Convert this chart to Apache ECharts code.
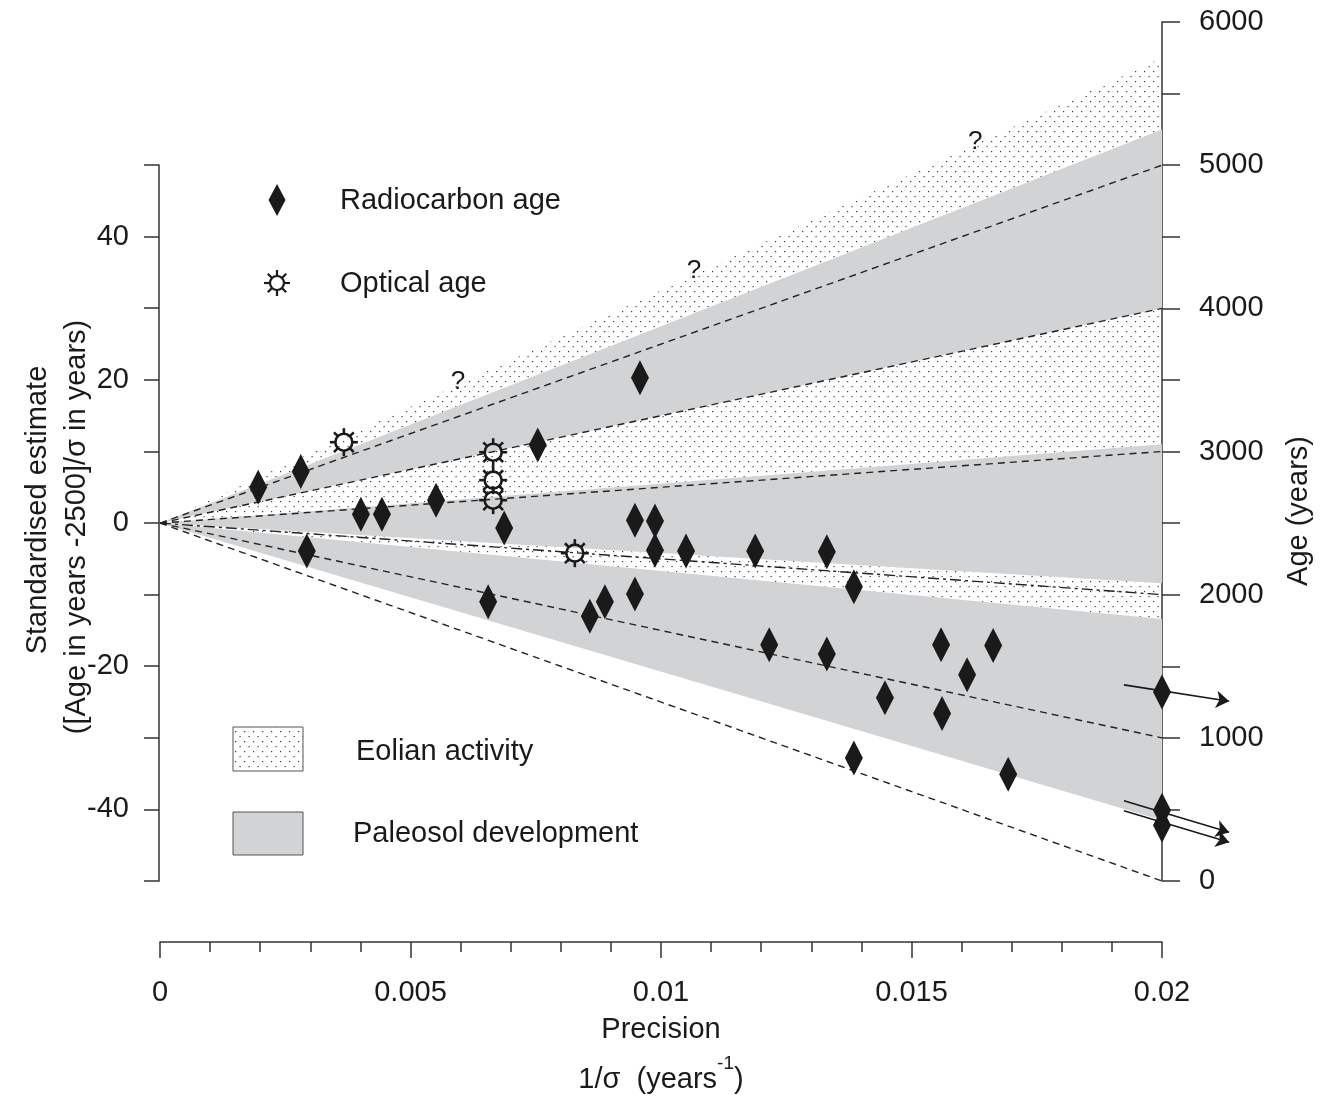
<!DOCTYPE html>
<html><head><meta charset="utf-8">
<script src="https://cdn.jsdelivr.net/npm/echarts/dist/echarts.min.js"></script>
<style>html,body{margin:0;padding:0;background:#fff}#c{width:1328px;height:1096px}</style>
</head><body><div id="c"></div>
<script>
// ---------- data ----------
const maxPrecision = 0.02;
const radiocarbonPrecision = [0.00196,0.00281,0.00293,0.00401,0.00443,0.00551,0.00655,0.00687,0.00754,0.00858,0.00888,0.00948,0.00948,0.00958,0.00988,0.00988,0.0105,0.01188,0.01216,0.01331,0.01331,0.01385,0.01385,0.01447,0.01559,0.01561,0.01611,0.01663,0.01693,0.02,0.02,0.02];
const radiocarbonZ = [5.0,7.2,-3.9,1.25,1.25,3.2,-11.0,-0.7,10.9,-13.0,-11.0,0.4,-9.9,20.3,0.3,-3.8,-3.9,-3.9,-17.0,-4.0,-18.3,-8.9,-32.8,-24.4,-17.0,-26.6,-21.2,-17.1,-35.1,-23.6,-40.1,-42.2];
const opticalPrecision = [0.00367,0.00665,0.00665,0.00665,0.00828];
const opticalZ = [11.3,9.9,6.0,3.2,-4.2];
const radialLineZ = [50,30,10,-30,-50];   // ages 5000,4000,3000,1000,0
const radialDashDotZ = [-10];            // age 2000
const eolianBands = [[55,65],[11,30],[-13.4,-8.4]];
const paleosolBands = [[30,55],[-8.4,11],[-41.5,-13.4]];
const arrowStart = [[0.01924,-22.6],[0.01924,-38.8],[0.01924,-40.2]];
const arrowEnd = [[0.02134,-24.9],[0.02134,-43.2],[0.02134,-44.6]];
const questionPrecision = [0.00595,0.01066,0.01627];
const questionZ = [19.8,35.3,53.3];
const leftTicks = [-50,50,10];      // min,max,interval (standardised estimate)
const rightTicks = [-50,70,10];     // in z units: age = 2500 + 50*z
const xTickLabels = ['0','0.005','0.01','0.015','0.02'];

// ---------- styles ----------
const FONT = '"Liberation Sans", Arial, Helvetica, sans-serif';
const INK = '#1a1a1a';
const GRAY = '#d2d3d5';
function makeDots(){
  const c = document.createElement('canvas');
  c.width = 9; c.height = 10;
  const g = c.getContext('2d');
  g.fillStyle = '#3a3a3a';
  g.fillRect(1,1,1.2,1.2);
  g.fillRect(5.5,6,1.2,1.2);
  return c;
}
const DOTS = {image: makeDots(), repeat: 'repeat'};

function sun(cx, cy, r, R, lw){
  const ch = [{type:'circle', shape:{cx:cx, cy:cy, r:r}, style:{fill:'none', stroke:INK, lineWidth:lw}}];
  for (let k=0;k<8;k++){
    const a = k*Math.PI/4, c = Math.cos(a), s = Math.sin(a);
    ch.push({type:'line', shape:{x1:cx+r*c, y1:cy+r*s, x2:cx+R*c, y2:cy+R*s}, style:{stroke:INK, lineWidth:lw}});
  }
  return ch;
}

function wedge(fill){
  return function(params, api){
    const o = api.coord([0,0]);
    const a = api.coord([maxPrecision, api.value(0)]);
    const b = api.coord([maxPrecision, api.value(1)]);
    return {type:'polygon', shape:{points:[o,a,b]}, style:{fill:fill}, silent:true};
  };
}

const chart = echarts.init(document.getElementById('c'));
const series = [];
series.push({type:'custom', xAxisIndex:0, yAxisIndex:0, z:1, renderItem:wedge(DOTS), data:eolianBands, clip:false});
series.push({type:'custom', xAxisIndex:0, yAxisIndex:0, z:1, renderItem:wedge(GRAY), data:paleosolBands, clip:false});
radialLineZ.forEach(function(z){
  series.push({type:'line', xAxisIndex:0, yAxisIndex:0, z:2, symbol:'none', silent:true,
    data:[[0,0],[maxPrecision,z]], lineStyle:{color:'#222', width:1.4, type:[7,5]}});
});
radialDashDotZ.forEach(function(z){
  series.push({type:'line', xAxisIndex:0, yAxisIndex:0, z:2, symbol:'none', silent:true,
    data:[[0,0],[maxPrecision,z]], lineStyle:{color:'#222', width:1.4, type:[11,4,3,4]}});
});
series.push({type:'lines', coordinateSystem:'cartesian2d', xAxisIndex:0, yAxisIndex:0, z:3, clip:false,
  symbol:['none','arrow'], symbolSize:[0,13],
  lineStyle:{color:INK, width:1.6, opacity:1, curveness:0},
  data: arrowStart.map(function(s,i){ return {coords:[s, arrowEnd[i]]}; })});
series.push({type:'scatter', xAxisIndex:0, yAxisIndex:0, z:4, clip:false, symbol:'diamond', symbolSize:[18,35],
  itemStyle:{color:INK, opacity:1}, data: radiocarbonPrecision.map(function(x,i){ return [x, radiocarbonZ[i]]; })});
series.push({type:'custom', xAxisIndex:0, yAxisIndex:0, z:5, clip:false,
  data: opticalPrecision.map(function(x,i){ return [x, opticalZ[i]]; }),
  renderItem:function(params, api){
    const p = api.coord([api.value(0), api.value(1)]);
    return {type:'group', children: sun(p[0], p[1], 8.5, 14, 2.6)};
  }});
series.push({type:'scatter', xAxisIndex:0, yAxisIndex:0, z:5, clip:false, symbolSize:1,
  itemStyle:{color:'rgba(0,0,0,0)', opacity:1},
  label:{show:true, position:'inside', formatter:'?', fontSize:26, fontFamily:FONT, color:INK, opacity:1},
  data: questionPrecision.map(function(x,i){ return [x, questionZ[i]]; })});

const txt = function(t, x, y, extra){
  return Object.assign({type:'text', x:x, y:y, style:{text:t, font:'29px '+FONT, fill:INK, align:'left', verticalAlign:'middle'}}, extra||{});
};

const option = {
  animation:false,
  backgroundColor:'#fff',
  grid:[
    {left:160, right:166, top:22, bottom:215},
    {left:159, right:166, top:165, bottom:215}
  ],
  xAxis:[
    {gridIndex:0, type:'value', min:0, max:maxPrecision, interval:0.005, offset:61,
     axisLine:{show:true, onZero:false, lineStyle:{color:'#333', width:1.5}},
     axisTick:{show:true, length:16, lineStyle:{color:'#333', width:1.5}},
     minorTick:{show:true, splitNumber:5, length:10, lineStyle:{color:'#333', width:1.5}},
     splitLine:{show:false},
     axisLabel:{margin:36, fontSize:29, fontFamily:FONT, color:INK,
       formatter:function(v){ return xTickLabels[Math.round(v/0.005)] || ''; }}},
    {gridIndex:1, type:'value', min:0, max:maxPrecision, show:false}
  ],
  yAxis:[
    {gridIndex:0, type:'value', position:'right', min:rightTicks[0], max:rightTicks[1], interval:rightTicks[2],
     axisLine:{show:true, onZero:false, lineStyle:{color:'#333', width:1.5}},
     axisTick:{show:true, length:18, lineStyle:{color:'#333', width:1.5}},
     splitLine:{show:false},
     axisLabel:{margin:37, fontSize:29, fontFamily:FONT, color:INK,
       formatter:function(v){ const age = Math.round(2500 + 50*v); return age % 1000 === 0 ? String(age) : ''; }}},
    {gridIndex:1, type:'value', position:'left', min:leftTicks[0], max:leftTicks[1], interval:leftTicks[2],
     axisLine:{show:true, onZero:false, lineStyle:{color:'#333', width:1.5}},
     axisTick:{show:true, length:15, lineStyle:{color:'#333', width:1.5}},
     splitLine:{show:false},
     axisLabel:{margin:30, fontSize:29, fontFamily:FONT, color:INK,
       formatter:function(v){ return (Math.round(v) % 20 === 0 && Math.abs(v) < 50) ? String(Math.round(v)) : ''; }}}
  ],
  graphic:[
    // legend
    {type:'polygon', shape:{points:[[277,184],[285.5,200],[277,216],[268.5,200]]}, style:{fill:INK}},
    txt('Radiocarbon age', 340, 201),
    {type:'group', children: sun(277, 283, 7, 13, 2.2)},
    txt('Optical age', 340, 284),
    {type:'rect', shape:{x:233, y:727, width:70, height:44}, style:{fill:DOTS, stroke:'#555', lineWidth:1}},
    {type:'rect', shape:{x:233, y:812, width:70, height:43}, style:{fill:GRAY, stroke:'#555', lineWidth:1}},
    txt('Eolian activity', 356, 752),
    txt('Paleosol development', 353, 834),
    // axis titles
    txt('Precision', 661, 1030, {style:{text:'Precision', font:'29px '+FONT, fill:INK, align:'center', verticalAlign:'middle'}}),
    {type:'text', x:661, y:1074, style:{text:'{n|1/σ  (years}{s|-1}{n|)}', align:'center', verticalAlign:'middle', fill:INK,
      rich:{n:{fontSize:29, fontFamily:FONT, lineHeight:40, verticalAlign:'bottom'}, s:{fontSize:19, fontFamily:FONT, lineHeight:40, verticalAlign:'top'}}}},
    {type:'text', x:38, y:510, rotation:Math.PI/2, style:{text:'Standardised estimate', font:'29px '+FONT, fill:INK, align:'center', verticalAlign:'middle'}},
    {type:'text', x:77, y:527, rotation:Math.PI/2, style:{text:'([Age in years -2500]/σ in years)', font:'29px '+FONT, fill:INK, align:'center', verticalAlign:'middle'}},
    {type:'text', x:1299, y:511, rotation:Math.PI/2, style:{text:'Age (years)', font:'29px '+FONT, fill:INK, align:'center', verticalAlign:'middle'}}
  ],
  series: series
};
chart.setOption(option);
</script>
</body></html>
